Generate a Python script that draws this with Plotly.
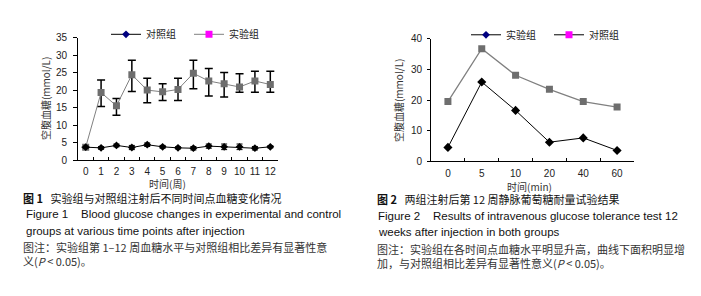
import plotly.graph_objects as go

W, H = 701, 296

# ---- Figure 1 data ----
weeks = [str(i) for i in range(13)]
exp1 = [3.8, 19.4, 15.6, 24.5, 20.1, 19.6, 20.3, 24.9, 22.7, 21.9, 21.0, 22.7, 21.7]
exp1_up = [0, 3.6, 2.1, 4.1, 3.4, 2.3, 3.2, 3.7, 3.6, 3.2, 3.8, 2.8, 3.8]
exp1_dn = [0, 4.0, 2.7, 4.8, 3.6, 2.5, 3.2, 4.4, 4.3, 3.8, 1.5, 3.2, 2.2]
ctl1 = [3.8, 3.6, 4.3, 3.7, 4.5, 3.9, 3.6, 3.5, 4.1, 3.9, 3.9, 3.5, 3.9]
ctl1_err = [0.3, 0.4, 0.4, 0.6, 0.5, 0.4, 0.3, 0.5, 0.6, 0.8, 0.8, 0.5, 0.3]
y1_ticks = [0, 5, 10, 15, 20, 25, 30, 35]

# ---- Figure 2 data ----
minutes = ["0", "5", "10", "20", "40", "60"]
sq2 = [19.5, 36.8, 28.1, 23.5, 19.5, 17.7]
dia2 = [4.5, 25.9, 16.6, 6.2, 7.6, 3.5]
y2_ticks = [0, 10, 20, 30, 40]

GREY_SQ = "#6e6e6e"
GREY_LN = "#808080"
NAVY = "#000080"
MAGENTA = "#ff00ff"

FONT = "Liberation Sans, Arial, Noto Sans CJK SC"
CJK = "Noto Sans CJK SC, Liberation Sans"

def px(x):
    return x / W

def py(y):
    return 1 - y / H

fig = go.Figure()

# Figure 1 traces
fig.add_trace(go.Scatter(
    x=weeks, y=exp1, mode="lines+markers", xaxis="x", yaxis="y",
    line=dict(color=GREY_LN, width=1),
    marker=dict(symbol="square", size=7, color=GREY_SQ),
    error_y=dict(type="data", symmetric=False, array=exp1_up, arrayminus=exp1_dn,
                 color="black", thickness=1.5, width=4),
    showlegend=False))
fig.add_trace(go.Scatter(
    x=weeks, y=ctl1, mode="lines+markers", xaxis="x", yaxis="y",
    line=dict(color="black", width=1),
    marker=dict(symbol="diamond", size=6, color="black"),
    error_y=dict(type="data", array=ctl1_err, color="black", thickness=1, width=3),
    showlegend=False))

# Figure 2 traces
fig.add_trace(go.Scatter(
    x=minutes, y=sq2, mode="lines+markers", xaxis="x2", yaxis="y2",
    line=dict(color=GREY_LN, width=1.3),
    marker=dict(symbol="square", size=7, color=GREY_SQ),
    showlegend=False))
fig.add_trace(go.Scatter(
    x=minutes, y=dia2, mode="lines+markers", xaxis="x2", yaxis="y2",
    line=dict(color="black", width=1),
    marker=dict(symbol="diamond", size=7, color="black"),
    showlegend=False))

# Legend-only entries (as drawn in the reference legends)
fig.add_trace(go.Scatter(x=[None], y=[None], mode="lines+markers", name="对照组",
                         xaxis="x", yaxis="y", legend="legend",
                         line=dict(color="black", width=1),
                         marker=dict(symbol="diamond", size=6, color=NAVY)))
fig.add_trace(go.Scatter(x=[None], y=[None], mode="lines+markers", name="实验组",
                         xaxis="x", yaxis="y", legend="legend",
                         line=dict(color=GREY_LN, width=1),
                         marker=dict(symbol="square", size=7, color=MAGENTA)))
fig.add_trace(go.Scatter(x=[None], y=[None], mode="lines+markers", name="实验组",
                         xaxis="x2", yaxis="y2", legend="legend2",
                         line=dict(color="black", width=1),
                         marker=dict(symbol="diamond", size=6, color=NAVY)))
fig.add_trace(go.Scatter(x=[None], y=[None], mode="lines+markers", name="对照组",
                         xaxis="x2", yaxis="y2", legend="legend2",
                         line=dict(color="black", width=1),
                         marker=dict(symbol="square", size=7, color=MAGENTA)))

axis_common = dict(showline=True, linecolor="black", linewidth=1, showgrid=False,
                   zeroline=False, tickfont=dict(family=FONT, size=10, color="#222"),
                   tickcolor="black")

fig.update_layout(
    width=W, height=H, margin=dict(l=0, r=0, t=0, b=0),
    paper_bgcolor="white", plot_bgcolor="white",
    xaxis=dict(domain=[px(78), px(278)], anchor="y", type="category",
               range=[-0.5, 12.5], ticks="inside", tickson="boundaries", ticklen=3,
               tickangle=0, ticklabelstandoff=2, **axis_common),
    yaxis=dict(domain=[py(161), py(33.3)], anchor="x", range=[0, 35],
               tickvals=y1_ticks, ticks="outside", ticklen=4, ticklabelstandoff=4,
               **axis_common),
    xaxis2=dict(domain=[px(431), px(634)], anchor="y2", type="category",
                range=[-0.5, 5.5], ticks="inside", tickson="boundaries", ticklen=3,
                tickangle=0, ticklabelstandoff=3, **axis_common),
    yaxis2=dict(domain=[py(161.7), py(34.3)], anchor="x2", range=[0, 40],
                tickvals=y2_ticks, ticks="outside", ticklen=3, ticklabelstandoff=3,
                **axis_common),
    legend=dict(orientation="h", x=px(106), y=py(29.5), xanchor="left", yanchor="middle",
                font=dict(family=CJK, size=10, color="#222"), bgcolor="rgba(0,0,0,0)",
                entrywidth=38, itemwidth=30),
    legend2=dict(orientation="h", x=px(466), y=py(30), xanchor="left", yanchor="middle",
                 font=dict(family=CJK, size=10, color="#222"), bgcolor="rgba(0,0,0,0)",
                 entrywidth=38, itemwidth=30),
)

ann = []

def text(x, y, s, size=11, family=CJK, angle=0, xanchor="left", color="#111"):
    ann.append(dict(x=px(x), y=py(y), xref="paper", yref="paper", text=s, showarrow=False,
                    xanchor=xanchor, yanchor="middle", textangle=angle,
                    font=dict(family=family, size=size, color=color)))

# axis titles
text(45, 96, "空腹血糖(mmol/L)", size=10, angle=-90, xanchor="center", color="#333")
text(398, 98, "空腹血糖(mmol/L)", size=10, angle=-90, xanchor="center", color="#333")
text(167, 184.5, "时间(周)", size=10, xanchor="center", color="#333")
text(529, 188.5, "时间(min)", size=10, xanchor="center", color="#333")

# captions figure 1
text(21, 200, "<b>图 1</b>   实验组与对照组注射后不同时间点血糖变化情况", size=11)
text(24, 217, "Figure 1    Blood glucose changes in experimental and control", size=11.5, family=FONT)
text(24, 234.5, "groups at various time points after injection", size=11.5, family=FONT)
text(21, 251.5, "图注：实验组第 1–12 周血糖水平与对照组相比差异有显著性意", size=11, color="#333")
text(21, 266, "义(<i>P</i> < 0.05)。", size=11, color="#333")

# captions figure 2
text(375, 201.5, "<b>图 2</b>   两组注射后第 12 周静脉葡萄糖耐量试验结果", size=11)
text(376, 219, "Figure 2    Results of intravenous glucose tolerance test 12", size=11.5, family=FONT)
text(376, 236, "weeks after injection in both groups", size=11.5, family=FONT)
text(375, 253.5, "图注：实验组在各时间点血糖水平明显升高，曲线下面积明显增", size=11, color="#333")
text(375, 267.5, "加，与对照组相比差异有显著性意义(<i>P</i> < 0.05)。", size=11, color="#333")

fig.update_layout(annotations=ann)

fig.write_html("out.html")
